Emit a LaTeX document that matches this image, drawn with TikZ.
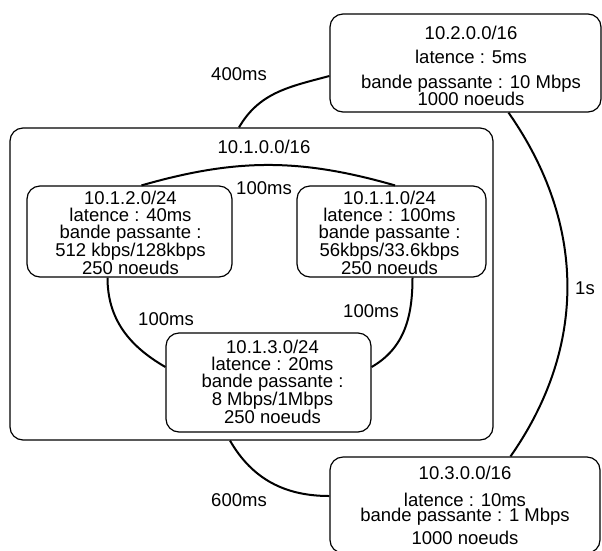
\documentclass[tikz,border=0pt]{standalone}
\usepackage{fontspec}
\setmainfont{Liberation Sans}
\begin{document}
\begin{tikzpicture}[x=1pt,y=-1pt,
  box/.style={draw, line width=1.2pt, rounded corners=13pt, inner sep=0pt},
  txt/.style={align=center, font=\fontsize{18.5}{16.7}\selectfont, inner sep=0pt},
  link/.style={draw, line width=2pt},
  lbl/.style={font=\fontsize{18.5}{16.7}\selectfont, inner sep=0pt}]
\useasboundingbox (0,0) rectangle (602,550);
% boxes
\node[box, minimum width=483pt, minimum height=312pt] (big) at (251.5,284) {};
\node[box, minimum width=271pt, minimum height=98pt] (b2) at (465.5,63) {};
\node[box, minimum width=205pt, minimum height=91pt] (b12) at (129.5,231.5) {};
\node[box, minimum width=189pt, minimum height=91pt] (b11) at (391.5,231.5) {};
\node[box, minimum width=205pt, minimum height=99pt] (b13) at (268.5,382.5) {};
\node[box, minimum width=270pt, minimum height=96pt] (b3) at (465,505) {};
% texts
\node[lbl] (t1) at (264,147) {10.1.0.0/16};
\node[txt] (t2) at (471,66) {10.2.0.0/16\\[8pt]latence : 5ms\\[8pt]bande passante : 10 Mbps\\[-1pt]1000 noeuds};
\node[txt] (t3) at (465,505.5) {10.3.0.0/16\\[10pt]latence : 10ms\\[-1pt]bande passante : 1 Mbps\\[5pt]1000 noeuds};
\node[txt] (t12) at (130.5,233) {10.1.2.0/24\\latence : 40ms\\bande passante :\\512 kbps/128kbps\\250 noeuds};
\node[txt] (t11) at (389.5,233) {10.1.1.0/24\\latence : 100ms\\bande passante :\\56kbps/33.6kbps\\250 noeuds};
\node[txt] (t13) at (272.5,382) {10.1.3.0/24\\latence : 20ms\\bande passante :\\8 Mbps/1Mbps\\250 noeuds};
% links
\draw[link] ([xshift=-12.5pt]big.north) to[out=60,in=195] ([yshift=-13pt]b2.west);
\draw[link] ([xshift=43pt]b2.south) to[out=-55,in=55] ([xshift=45.5pt]b3.north);
\draw[link] ([xshift=-21.5pt]big.south) to[out=-60,in=180] ([yshift=9pt]b3.west);
\draw[link] ([xshift=12pt]b12.north) to[out=16,in=164] ([xshift=3.5pt]b11.north);
\draw[link] ([xshift=-22pt]b12.south) to[out=-90,in=150] ([yshift=15.5pt]b13.west);
\draw[link] ([xshift=21pt]b11.south) to[out=-90,in=30] ([yshift=15.5pt]b13.east);
% link labels
\node[lbl] (l400) at (239,74) {400ms};
\node[lbl] (l1s) at (585,288) {1s};
\node[lbl] (l600) at (239,500) {600ms};
\node[lbl] (ltop) at (264,188) {100ms};
\node[lbl] (lleft) at (166,319) {100ms};
\node[lbl] (lright) at (371,311) {100ms};
\end{tikzpicture}
\end{document}
